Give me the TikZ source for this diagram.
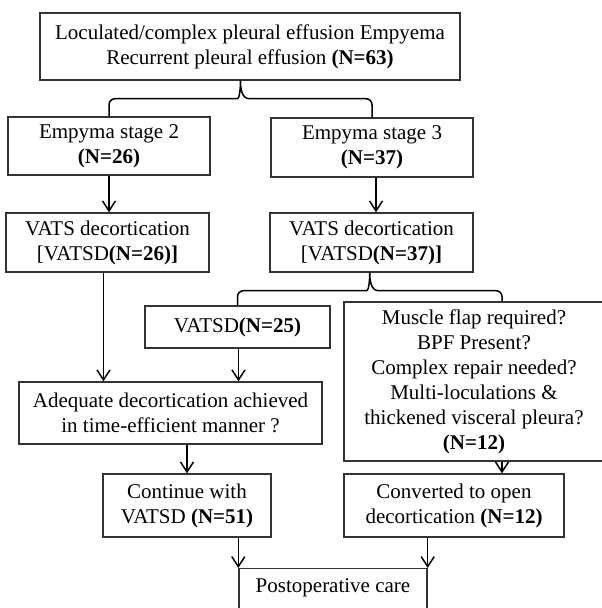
\documentclass[tikz,border=0pt]{standalone}
\usepackage{fontspec}
\setmainfont{Liberation Serif}
\usetikzlibrary{arrows.meta,calc}

\begin{document}
\begin{tikzpicture}[x=1pt,y=1pt]
\useasboundingbox (0,0) rectangle (602,608);
\begin{scope}[every node/.style={draw=black!80,line width=1.4pt,align=center,inner sep=2pt,
                                 font=\fontsize{21}{25}\selectfont}]
    \node[minimum width=420,minimum height=67] (top) at (250,561.5)
        {Loculated/complex pleural effusion Empyema\\Recurrent pleural effusion \textbf{(N=63)}};
    \node[minimum width=202,minimum height=58] (st2) at (109,462) {Empyma stage 2\\\textbf{(N=26)}};
    \node[minimum width=202,minimum height=59] (st3) at (372,460.5) {Empyma stage 3\\\textbf{(N=37)}};
    \node[minimum width=203,minimum height=59] (vl) at (107.5,365.5) {VATS decortication\\{}[VATSD\textbf{(N=26)]}};
    \node[minimum width=203,minimum height=59] (vr) at (371.5,365.5) {VATS decortication\\{}[VATSD\textbf{(N=37)]}};
    \node[minimum width=185,minimum height=42] (v25) at (237.5,281) {VATSD\textbf{(N=25)}};
    \node[minimum width=260,minimum height=159] (musc) at (474,226.5)
        {Muscle flap required?\\BPF Present?\\Complex repair needed?\\Multi-loculations \&\\thickened visceral pleura?\\\textbf{(N=12)}};
    \node[minimum width=303,minimum height=62] (adeq) at (170.5,195)
        {Adequate decortication achieved\\in time-efficient manner ?};
    \node[minimum width=168,minimum height=63] (cont) at (187,102.5) {Continue with\\VATSD \textbf{(N=51)}};
    \node[minimum width=220,minimum height=63] (conv) at (454,102.5) {Converted to open\\decortication \textbf{(N=12)}};
    \node[minimum width=188,text height=22pt,text depth=40pt,anchor=north] (post) at (333,40) {Postoperative care};
\end{scope}
\coordinate (b1) at ($(st2.north)!.5!(st3.north)$);
\coordinate (m1) at ([xshift=28pt]musc.north);
\coordinate (b2) at ($(v25.north)!.5!(m1)$);
\begin{scope}[>={Straight Barb[length=10pt,width=13pt]},
              every path/.style={line width=1.5pt}]
    % forks
    \draw[rounded corners=6pt] (st2.north) |- ($(b1 |- top.south)+(-9,-18)$) [sharp corners]
        to[out=0,in=-90] (b1 |- top.south) to[out=-90,in=180] ($(b1 |- top.south)+(9,-18)$)
        [rounded corners=6pt] -| (st3.north);
    \draw[rounded corners=6pt] (v25.north) |- ($(b2 |- vr.south)+(-9,-18)$) [sharp corners]
        to[out=0,in=-90] (b2 |- vr.south) to[out=-90,in=180] ($(b2 |- vr.south)+(9,-18)$)
        [rounded corners=6pt] -| (m1);
    % arrows
    \draw[->] (st2.south) -- (st2.south |- vl.north);
    \draw[->] ([xshift=4pt]st3.south) -- ([xshift=4pt]st3.south |- vr.north);
    \draw[->] ([xshift=-4pt]vl.south) -- ([xshift=-4pt]vl.south |- adeq.north);
    \draw[->] ([xshift=1pt]v25.south) -- ([xshift=1pt]v25.south |- adeq.north);
    \draw[->] (cont.north |- adeq.south) -- (cont.north);
    \draw[->] (m1 |- musc.south) -- (m1 |- conv.north);
    \draw[->] (cont.south -| post.west) -- (post.north west);
    \draw[->] (conv.south -| post.east) -- (post.north east);
\end{scope}
\end{tikzpicture}
\end{document}
